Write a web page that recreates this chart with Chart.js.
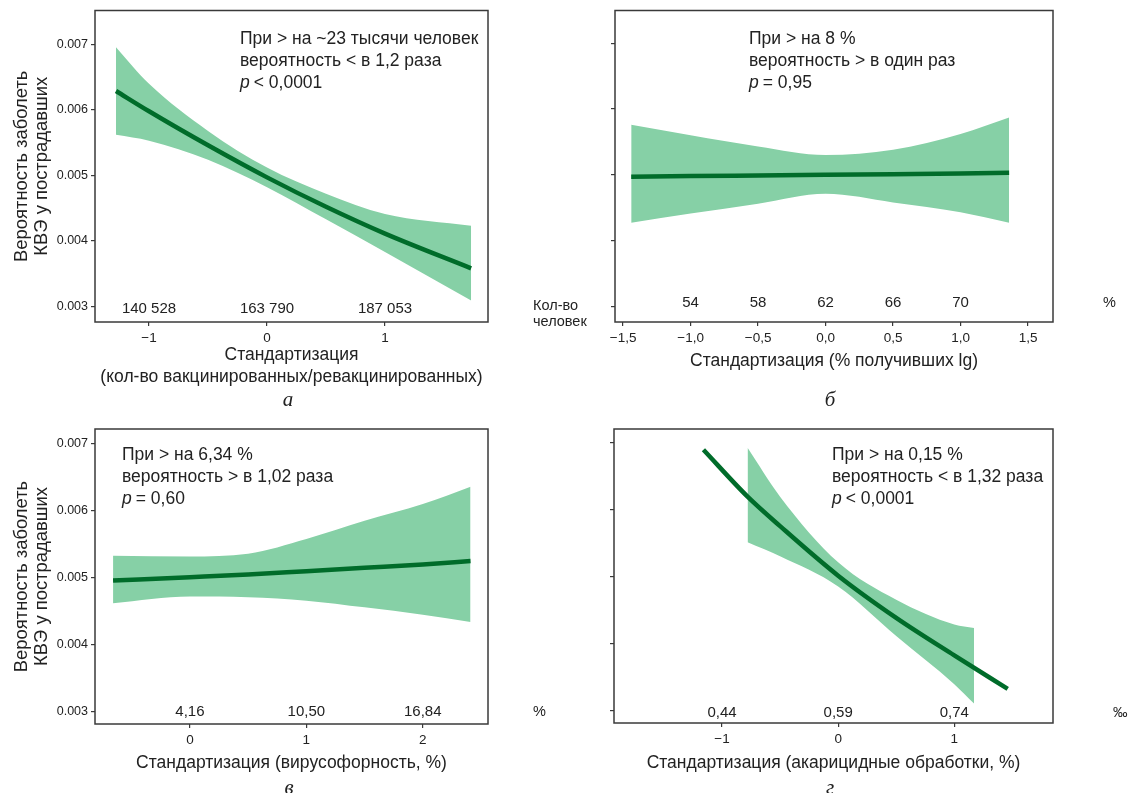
<!DOCTYPE html>
<html>
<head>
<meta charset="utf-8">
<script src="https://cdn.jsdelivr.net/npm/chart.js@4.4.1/dist/chart.umd.min.js"></script>
<style>
  body { margin: 0; background: #fff; width: 1135px; height: 793px; position: relative; overflow: hidden; }
  canvas { position: absolute; }
  .cap { position: absolute; font-family: "Liberation Serif", serif; font-style: italic; font-size: 21px; color: #222; transform: translate(-50%, -50%); }
</style>
</head>
<body>
<canvas id="chA" width="600" height="405" style="left:0;top:0"></canvas>
<canvas id="chB" width="575" height="405" style="left:560px;top:0"></canvas>
<canvas id="chC" width="600" height="383" style="left:0;top:410px"></canvas>
<canvas id="chD" width="575" height="383" style="left:560px;top:410px"></canvas>
<div class="cap" style="left:288px;top:399px">а</div>
<div class="cap" style="left:830px;top:399px">б</div>
<div class="cap" style="left:289px;top:787px">в</div>
<div class="cap" style="left:830px;top:787px">г</div>
<script>
const yTicks = [0.003, 0.004, 0.005, 0.006, 0.007];

// а: вакцинированные/ревакцинированные
const aX = [-1.28, -1.0, -0.5, 0, 0.5, 1.0, 1.73];
const aFit = [0.00629, 0.00598, 0.00546, 0.00497, 0.00452, 0.00411, 0.00358];
const aUp = [0.00696, 0.00640, 0.00568, 0.00512, 0.00472, 0.00441, 0.00423];
const aLo = [0.00562, 0.00553, 0.00524, 0.00482, 0.00433, 0.00383, 0.00309];
const aXTicks = [-1, 0, 1];
const aXLabels = ['−1', '0', '1'];
const aCounts = ['140 528', '163 790', '187 053'];

// б: % получивших Ig
const bX = [-1.44, -1.0, -0.5, 0, 0.5, 1.0, 1.36];
const bFit = [0.00497, 0.00498, 0.00499, 0.00500, 0.00501, 0.00502, 0.00503];
const bUp = [0.00576, 0.00560, 0.00543, 0.00530, 0.00538, 0.00562, 0.00587];
const bLo = [0.00427, 0.00441, 0.00456, 0.00471, 0.00458, 0.00443, 0.00427];
const bXTicks = [-1.5, -1.0, -0.5, 0, 0.5, 1.0, 1.5];
const bXLabels = ['−1,5', '−1,0', '−0,5', '0,0', '0,5', '1,0', '1,5'];
const bCountsAt = [-1.0, -0.5, 0, 0.5, 1.0];
const bCounts = ['54', '58', '62', '66', '70'];

// в: вирусофорность
const cX = [-0.66, 0, 0.5, 1.0, 1.5, 2.0, 2.41];
const cFit = [0.00496, 0.00501, 0.00505, 0.00510, 0.00515, 0.00520, 0.00525];
const cUp = [0.00533, 0.00532, 0.00536, 0.00558, 0.00585, 0.00610, 0.00636];
const cLo = [0.00462, 0.00472, 0.00471, 0.00466, 0.00456, 0.00445, 0.00434];
const cXTicks = [0, 1, 2];
const cXLabels = ['0', '1', '2'];
const cCounts = ['4,16', '10,50', '16,84'];

// г: акарицидные обработки
const dX = [-1.16, -0.78, -0.5, 0, 0.5, 1.0, 1.46];
const dFit = [0.00690, 0.00620, 0.00576, 0.00502, 0.00439, 0.00383, 0.00333];
const dBandX = [-0.78, -0.5, 0, 0.5, 1.0, 1.17];
const dUp = [0.00693, 0.00620, 0.00522, 0.00466, 0.00429, 0.00424];
const dLo = [0.00552, 0.00531, 0.00486, 0.00412, 0.00340, 0.00311];
const dXTicks = [-1, 0, 1];
const dXLabels = ['−1', '0', '1'];
const dCounts = ['0,44', '0,59', '0,74'];

const FONT = '"Liberation Sans", Arial, sans-serif';
const TXT = '#222';
const BAND = 'rgb(134, 208, 166)';
const LINE = 'rgb(0, 108, 42)';

const pts = (xs, ys) => xs.map((x, i) => ({ x, y: ys[i] }));

const extras = {
  id: 'extras',
  afterDraw(chart, args, o) {
    const { ctx, chartArea: a, scales } = chart;
    ctx.save();
    ctx.strokeStyle = '#3a3a3a';
    ctx.lineWidth = 1.5;
    ctx.strokeRect(a.left, a.top, a.right - a.left, a.bottom - a.top);

    ctx.fillStyle = TXT;
    ctx.textBaseline = 'middle';
    ctx.font = '15px ' + FONT;
    ctx.textAlign = 'center';
    o.inner.forEach((t, i) => ctx.fillText(t, scales.x.getPixelForValue(o.innerAt[i]), a.bottom - o.innerDy));

    ctx.textAlign = 'left';
    ctx.font = '14.5px ' + FONT;
    o.unit.forEach((t, i) => ctx.fillText(t, a.right + o.unitDx, a.bottom - o.unitDy + i * 16));

    o.note.forEach((t, i) => {
      const y = o.noteY + i * 22;
      let x = o.noteX;
      if (t.startsWith('p ')) {
        ctx.font = 'italic 17.5px ' + FONT;
        ctx.fillText('p', x, y);
        x += ctx.measureText('p').width + 4;
        t = t.slice(2);
      }
      ctx.font = '17.5px ' + FONT;
      ctx.fillText(t, x, y);
    });
    ctx.restore();
  }
};

function makeChart(id, c) {
  const datasets = [
    { data: pts(c.x, c.fit), borderColor: LINE, borderWidth: 4.5, fill: false, cubicInterpolationMode: 'monotone' },
    { data: pts(c.bandX || c.x, c.up), borderWidth: 0, backgroundColor: BAND, fill: '+1', cubicInterpolationMode: 'monotone' },
    { data: pts(c.bandX || c.x, c.lo), borderWidth: 0, fill: false, cubicInterpolationMode: 'monotone' }
  ];
  new Chart(document.getElementById(id), {
    type: 'line',
    data: { datasets },
    plugins: [extras],
    options: {
      responsive: false,
      animation: false,
      layout: { padding: { top: c.padTop, right: c.padRight, left: 0, bottom: 0 } },
      elements: { point: { radius: 0 } },
      plugins: {
        legend: { display: false },
        tooltip: { enabled: false },
        extras: c.extras
      },
      scales: {
        x: {
          type: 'linear',
          min: c.xMin, max: c.xMax,
          afterFit: s => { s.height = c.xHeight; },
          afterBuildTicks: s => { s.ticks = c.xTicks.map(v => ({ value: v })); },
          ticks: {
            color: TXT, font: { family: FONT, size: 13.5 }, padding: 4,
            callback: (v) => c.xLabels[c.xTicks.indexOf(v)]
          },
          grid: { drawOnChartArea: false, tickLength: 4, color: '#3a3a3a', lineWidth: 1.2 },
          border: { display: false },
          title: {
            display: true, text: c.xTitle, color: TXT,
            font: { family: FONT, size: 17.5, lineHeight: 1.257 },
            padding: { top: 0, bottom: c.xTitlePad }
          }
        },
        y: {
          min: c.yMin, max: c.yMax,
          afterFit: s => { s.width = c.yWidth; },
          afterBuildTicks: s => { s.ticks = yTicks.map(v => ({ value: v })); },
          ticks: {
            color: TXT, font: { family: FONT, size: 12.5 }, padding: 3,
            callback: v => c.yLabels ? v.toFixed(3) : ''
          },
          grid: { drawOnChartArea: false, tickLength: 4, color: '#3a3a3a', lineWidth: 1.2 },
          border: { display: false },
          title: {
            display: !!c.yLabels,
            text: ['Вероятность заболеть', 'КВЭ у пострадавших'],
            color: TXT,
            font: { family: FONT, size: 18.4, lineHeight: 1.087 },
            padding: { top: 12, bottom: 0 }
          }
        }
      }
    }
  });
}

makeChart('chA', {
  x: aX, fit: aFit, up: aUp, lo: aLo,
  xMin: -1.458, xMax: 1.873, yMin: 0.00276, yMax: 0.00752,
  xTicks: aXTicks, xLabels: aXLabels, yLabels: true,
  padTop: 8, padRight: 112, xHeight: 83, yWidth: 95, xTitlePad: 17,
  xTitle: ['Стандартизация', '(кол-во вакцинированных/ревакцинированных)'],
  extras: {
    inner: aCounts, innerAt: aXTicks, innerDy: 13,
    unit: ['Кол-во', 'человек'], unitDx: 45, unitDy: 16,
    note: ['При > на ~23 тысячи человек', 'вероятность < в 1,2 раза', 'p < 0,0001'], noteX: 240, noteY: 39
  }
});

makeChart('chB', {
  x: bX, fit: bFit, up: bUp, lo: bLo,
  xMin: -1.56, xMax: 1.685, yMin: 0.00276, yMax: 0.0075,
  xTicks: bXTicks, xLabels: bXLabels, yLabels: false,
  padTop: 9, padRight: 82, xHeight: 83, yWidth: 55, xTitlePad: 33,
  xTitle: 'Стандартизация (% получивших lg)',
  extras: {
    inner: bCounts, innerAt: bCountsAt, innerDy: 19,
    unit: ['%'], unitDx: 50, unitDy: 19,
    note: ['При > на 8 %', 'вероятность > в один раз', 'p = 0,95'], noteX: 189, noteY: 39
  }
});

makeChart('chC', {
  x: cX, fit: cFit, up: cUp, lo: cLo,
  xMin: -0.815, xMax: 2.56, yMin: 0.00282, yMax: 0.00722,
  xTicks: cXTicks, xLabels: cXLabels, yLabels: true,
  padTop: 19, padRight: 112, xHeight: 69, yWidth: 95, xTitlePad: 19,
  xTitle: 'Стандартизация (вирусофорность, %)',
  extras: {
    inner: cCounts, innerAt: cXTicks, innerDy: 12,
    unit: ['%'], unitDx: 45, unitDy: 12,
    note: ['При > на 6,34 %', 'вероятность > в 1,02 раза', 'p = 0,60'], noteX: 122, noteY: 45
  }
});

makeChart('chD', {
  x: dX, fit: dFit, bandX: dBandX, up: dUp, lo: dLo,
  xMin: -1.93, xMax: 1.85, yMin: 0.00282, yMax: 0.00721,
  xTicks: dXTicks, xLabels: dXLabels, yLabels: false,
  padTop: 19, padRight: 82, xHeight: 70, yWidth: 54, xTitlePad: 19,
  xTitle: 'Стандартизация (акарицидные обработки, %)',
  extras: {
    inner: dCounts, innerAt: dXTicks, innerDy: 10,
    unit: ['‰'], unitDx: 60, unitDy: 10,
    note: ['При > на 0,15 %', 'вероятность < в 1,32 раза', 'p < 0,0001'], noteX: 272, noteY: 45
  }
});
</script>
</body>
</html>
